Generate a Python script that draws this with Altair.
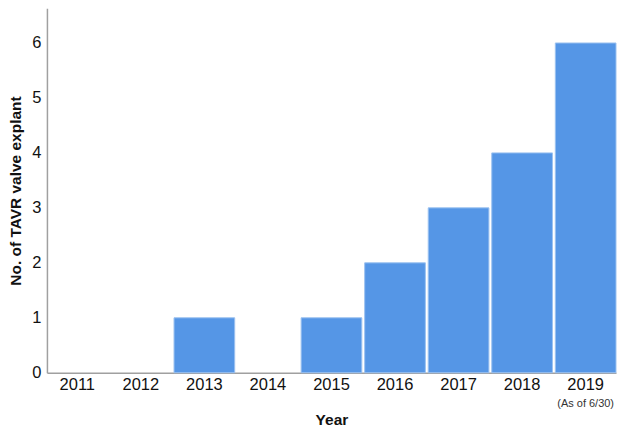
import altair as alt
import pandas as pd

years = ["2011", "2012", "2013", "2014", "2015", "2016", "2017", "2018", "2019"]
counts = [0, 0, 1, 0, 1, 2, 3, 4, 6]
note_year = ["2019"]
note_text = ["(As of 6/30)"]

df = pd.DataFrame({"year": years, "count": counts})
note = pd.DataFrame({"year": note_year, "text": note_text, "base": [0]})

FONT = "Liberation Sans"

xscale = alt.Scale(domain=years, paddingInner=0.045, paddingOuter=0.0)

x = alt.X("year:N", scale=xscale, title="Year",
          axis=alt.Axis(labelAngle=0, ticks=False, labelPadding=4,
                        labelFontSize=16.5, labelColor="#111", titleFontSize=15.5,
                        titleFontWeight="bold", titlePadding=19, titleColor="#111",
                        domainColor="#a0a0a0", domainWidth=1.5))

bars = alt.Chart(df).transform_filter("datum.count > 0").mark_bar(
    color="#5596E6", stroke="#9cc2f0", strokeWidth=1
).encode(
    x=x,
    y=alt.Y("count:Q", title="No. of TAVR valve explant",
            scale=alt.Scale(domain=[0, 6.63], nice=False),
            axis=alt.Axis(values=[0, 1, 2, 3, 4, 5, 6], format="d", ticks=False, grid=False,
                          labelPadding=6, labelFontSize=16.5, labelColor="#111",
                          titleFontSize=15.5, titleFontWeight="bold", titlePadding=8,
                          titleColor="#111", domainColor="#a0a0a0", domainWidth=1.5)),
)

txt = alt.Chart(note).mark_text(fontSize=11, font=FONT, color="#333", dy=31).encode(
    x=alt.X("year:N", scale=xscale),
    y=alt.Y("base:Q"),
    text="text:N",
)

chart = alt.layer(bars, txt).properties(
    width=570, height=365, padding={"left": 0, "top": 0, "right": 0, "bottom": 0}
).configure(font=FONT).configure_view(stroke=None)

chart.save("out.html", embed_options={"renderer": "svg", "actions": False})
